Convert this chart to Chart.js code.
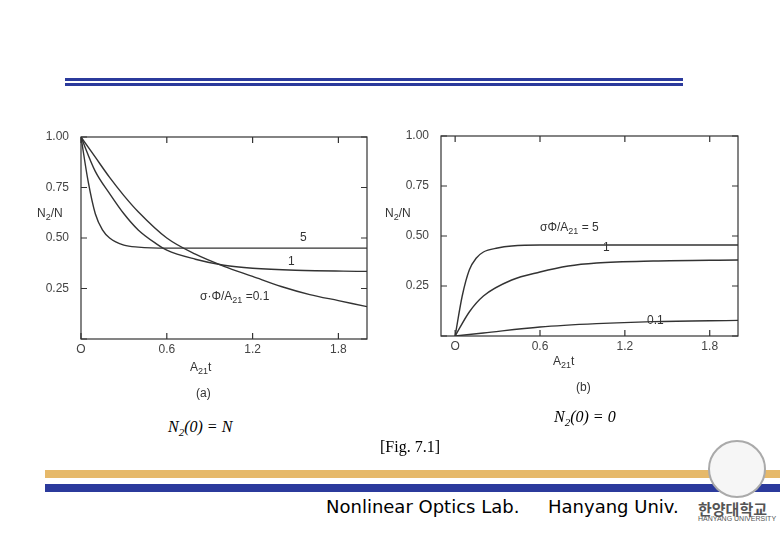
<!DOCTYPE html>
<html><head><meta charset="utf-8">
<script src="https://cdn.jsdelivr.net/npm/chart.js@4"></script>
<style>
body{margin:0;width:780px;height:540px;background:#fff;position:relative;overflow:hidden;font-family:"Liberation Sans",Arial,sans-serif;}
.a{position:absolute;white-space:nowrap;color:#333;font-size:12px;}
.t{font-family:"Liberation Serif","Times New Roman",serif;color:#000;font-size:16px;}
canvas{position:absolute;}
</style></head><body>
<div style="position:absolute;left:65px;top:78px;width:618px;height:3px;background:#2b3a9c"></div>
<div style="position:absolute;left:65px;top:83px;width:618px;height:3px;background:#2b3a9c"></div>
<div style="position:absolute;left:45px;top:470px;width:735px;height:8px;background:#e6b96a"></div>
<div style="position:absolute;left:45px;top:484px;width:735px;height:8px;background:#2b3a9c"></div>

<div style="position:absolute;left:30px;top:120px;width:350px;height:290px"><canvas id="c1"></canvas></div>
<div style="position:absolute;left:390px;top:120px;width:360px;height:290px"><canvas id="c2"></canvas></div>

<div class="a" style="left:37px;top:206px">N<sub style="font-size:9px">2</sub>/N</div>
<div class="a" style="left:385px;top:206px">N<sub style="font-size:9px">2</sub>/N</div>
<div class="a" style="left:190px;top:360px">A<sub style="font-size:9px">21</sub>t</div>
<div class="a" style="left:553px;top:354px">A<sub style="font-size:9px">21</sub>t</div>
<div class="a" style="left:196px;top:386px">(a)</div>
<div class="a" style="left:576px;top:380px">(b)</div>
<div class="a" style="left:300px;top:230px">5</div>
<div class="a" style="left:288px;top:254px">1</div>
<div class="a" style="left:200px;top:289px">σ·Φ/A<sub style="font-size:9px">21</sub> =0.1</div>
<div class="a" style="left:540px;top:220px">σΦ/A<sub style="font-size:9px">21</sub> = 5</div>
<div class="a" style="left:603px;top:240px">1</div>
<div class="a" style="left:647px;top:313px">0.1</div>

<div class="a t" style="left:168px;top:418px;font-style:italic">N<sub style="font-size:11px">2</sub>(0) = N</div>
<div class="a t" style="left:554px;top:408px;font-style:italic">N<sub style="font-size:11px">2</sub>(0) = 0</div>
<div class="a t" style="left:380px;top:438px">[Fig. 7.1]</div>
<div class="a" style="left:326px;top:496px;font-size:18px;color:#000;font-family:'DejaVu Sans',sans-serif">Nonlinear Optics Lab.</div>
<div class="a" style="left:548px;top:496px;font-size:18px;color:#000;font-family:'DejaVu Sans',sans-serif">Hanyang Univ.</div>
<div style="position:absolute;left:708px;top:440px;width:54px;height:54px;border-radius:50%;border:2px solid #aaa;background:#f6f6f6"></div>
<div class="a" style="left:698px;top:498px;font-size:15px;font-weight:bold;color:#555;font-family:'Noto Sans CJK KR'">한양대학교</div>
<div class="a" style="left:698px;top:515px;font-size:7px;color:#555">HANYANG UNIVERSITY</div>

<script>
// (a) N2(0)=N
const ax5 = [0, 0.05, 0.1, 0.15, 0.2, 0.3, 0.4, 0.6, 1.0, 2.0];
const ay5 = [1, 0.78, 0.62, 0.54, 0.5, 0.465, 0.455, 0.45, 0.45, 0.45];
const ax1 = [0, 0.1, 0.2, 0.3, 0.4, 0.53, 0.6, 0.8, 1.0, 1.2, 1.5, 2.0];
const ay1 = [1, 0.83, 0.72, 0.62, 0.54, 0.47, 0.44, 0.395, 0.365, 0.35, 0.34, 0.335];
const axp1 = [0, 0.1, 0.2, 0.3, 0.4, 0.6, 0.8, 1.0, 1.2, 1.4, 1.6, 1.8, 2.0];
const ayp1 = [1, 0.9, 0.8, 0.71, 0.63, 0.5, 0.42, 0.36, 0.31, 0.26, 0.22, 0.19, 0.16];
// (b) N2(0)=0
const bx5 = [0, 0.05, 0.1, 0.15, 0.2, 0.3, 0.4, 0.6, 1.0, 2.0];
const by5 = [0, 0.2, 0.33, 0.39, 0.42, 0.44, 0.45, 0.455, 0.455, 0.455];
const bx1 = [0, 0.1, 0.2, 0.4, 0.6, 0.8, 1.0, 1.4, 2.0];
const by1 = [0, 0.12, 0.2, 0.28, 0.32, 0.35, 0.365, 0.375, 0.38];
const bxp1 = [0, 0.2, 0.6, 1.0, 1.4, 2.0];
const byp1 = [0, 0.015, 0.045, 0.062, 0.072, 0.078];
const xTicks = [0, 0.6, 1.2, 1.8];
const yTicks = [0, 0.25, 0.5, 0.75, 1.0];

const pts = (xs, ys) => xs.map((x, i) => ({x, y: ys[i]}));

const frame = {
  id: 'frame',
  afterDraw(c) {
    const {ctx, chartArea: a, scales: {x, y}} = c;
    ctx.save();
    ctx.strokeStyle = '#333'; ctx.lineWidth = 1.2;
    ctx.strokeRect(a.left, a.top, a.right - a.left, a.bottom - a.top);
    xTicks.forEach(v => {
      const p = x.getPixelForValue(v);
      ctx.beginPath(); ctx.moveTo(p, a.bottom); ctx.lineTo(p, a.bottom - 6);
      ctx.moveTo(p, a.top); ctx.lineTo(p, a.top + 6); ctx.stroke();
    });
    yTicks.forEach(v => {
      const p = y.getPixelForValue(v);
      ctx.beginPath(); ctx.moveTo(a.left, p); ctx.lineTo(a.left + 6, p);
      ctx.moveTo(a.right, p); ctx.lineTo(a.right - 6, p); ctx.stroke();
    });
    ctx.restore();
  }
};

function make(id, sets, xmin, pad) {
  new Chart(document.getElementById(id), {
    type: 'scatter',
    data: {datasets: sets.map(d => ({data: d, showLine: true, borderColor: '#333', borderWidth: 1.4,
      pointRadius: 0, cubicInterpolationMode: 'monotone'}))},
    options: {
      responsive: true, maintainAspectRatio: false, animation: false,
      layout: {padding: pad},
      plugins: {legend: {display: false}, tooltip: {enabled: false}},
      scales: {
        x: {type: 'linear', min: xmin, max: 2.0, grid: {display: false}, border: {display: false},
          afterBuildTicks: s => { s.ticks = xTicks.map(v => ({value: v})); },
          afterFit: s => { s.height = pad.xh; },
          ticks: {color: '#444', font: {size: 12}, padding: -5, callback: v => v === 0 ? 'O' : v.toFixed(1)}},
        y: {min: 0, max: 1.0, grid: {display: false}, border: {display: false},
          afterBuildTicks: s => { s.ticks = yTicks.map(v => ({value: v})); },
          afterFit: s => { s.width = 51; },
          ticks: {color: '#444', font: {size: 12}, padding: 4, callback: v => v === 0 ? '' : v.toFixed(2)}}
      }
    },
    plugins: [frame]
  });
}

make('c1', [pts(ax5, ay5), pts(ax1, ay1), pts(axp1, ayp1)], 0, {top: 17, right: 13, left: 0, bottom: 0, xh: 71});
make('c2', [pts(bx5, by5), pts(bx1, by1), pts(bxp1, byp1)], -0.1, {top: 16, right: 12, left: 0, bottom: 0, xh: 74});
</script>
</body></html>
